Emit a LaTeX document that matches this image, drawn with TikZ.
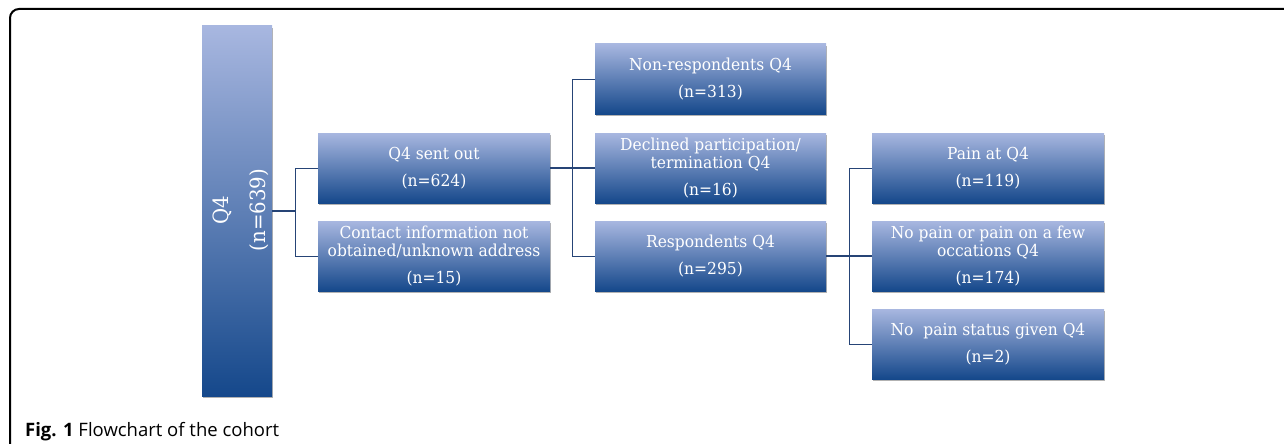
\documentclass[tikz,border=0pt]{standalone}
\usepackage{fontspec}
\usetikzlibrary{shadows}
\newfontfamily\boxfont{DejaVu Serif}[FakeStretch=0.94]
\newfontfamily\capfont{Open Sans}
\definecolor{boxtop}{RGB}{168,183,224}
\definecolor{boxbot}{RGB}{21,72,139}
\definecolor{linkc}{RGB}{38,68,118}
\tikzset{
  gbox/.style={rectangle, inner sep=0pt, draw=none, top color=boxtop, bottom color=boxbot,
    drop shadow={shadow xshift=0.8pt, shadow yshift=-1.6pt, opacity=0.3, fill=black}},
  fbox/.style={gbox, minimum width=232pt, minimum height=70pt, text=white, align=center,
    font=\boxfont\fontsize{16.5}{18}\selectfont},
  bigtext/.style={inner sep=0pt, text=white, align=center, font=\boxfont\fontsize{21}{25}\selectfont},
  trunk/.style={draw=linkc, line width=1.8pt},
  branch/.style={draw=linkc, line width=1pt},
}
\begin{document}
\begin{tikzpicture}[x=1pt,y=-1pt]
\useasboundingbox (0,0) rectangle (1284,444);
\begin{scope}
  \clip (0,0) rectangle (1284,444);
  \draw[line width=2pt, rounded corners=9pt] (10,470) -- (10,9) -- (1300,9);
\end{scope}
% boxes
\node[gbox, minimum width=70pt, minimum height=370pt] (big) at (237,211) {};
\node[bigtext, rotate=90] (bigl) at (241,210) {Q4\\[12pt](n=639)};
\node[fbox] (sent) at (434,168) {Q4 sent out\\[9pt](n=624)};
\node[fbox] (contact) at (434,256) {Contact information not\\obtained/unknown address\\[9pt](n=15)};
\node[fbox, minimum width=231pt] (nonresp) at (710.5,79) {Non-respondents Q4\\[9pt](n=313)};
\node[fbox, minimum width=231pt] (declined) at (710.5,168) {Declined participation/\\termination Q4\\[9pt](n=16)};
\node[fbox, minimum width=231pt] (resp) at (710.5,256) {Respondents Q4\\[9pt](n=295)};
\node[fbox] (pain) at (988,168) {Pain at Q4\\[9pt](n=119)};
\node[fbox] (nopain) at (988,256) {No pain or pain on a few\\occations Q4\\[9pt](n=174)};
\node[fbox] (status) at (988,344) {No\ \ pain status given Q4\\[9pt](n=2)};
% junctions
\coordinate (j1) at (295,211);
\coordinate (j2) at (572,168);
\coordinate (j3) at (849,256);
% connectors
\draw[trunk] (big.east) -- (j1);
\draw[branch] (sent.west) -| (j1);
\draw[branch] (contact.west) -| (j1);
\draw[trunk] (sent.east) -- (declined.west);
\draw[branch] (nonresp.west) -| (j2);
\draw[branch] (resp.west) -| (j2);
\draw[trunk] (resp.east) -- (nopain.west);
\draw[branch] (pain.west) -| (j3);
\draw[branch] (status.west) -| (j3);
% caption
\node[anchor=base west, inner sep=0pt, font=\capfont\fontsize{18.5}{22}\selectfont] (cap) at (25,436) {\textbf{Fig. 1} Flowchart of the cohort};
\end{tikzpicture}
\end{document}
